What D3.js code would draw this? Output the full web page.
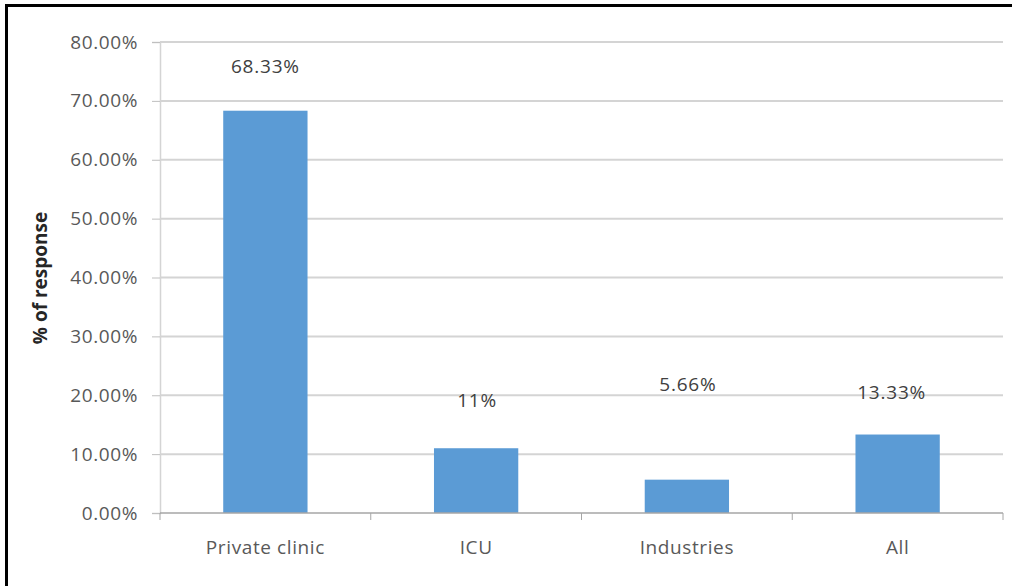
<!DOCTYPE html>
<html>
<head>
<meta charset="utf-8">
<script src="https://cdn.jsdelivr.net/npm/d3@7"></script>
<style>
  body { margin: 0; background: #fff; }
  text { font-family: "Open Sans", "Liberation Sans", sans-serif; }
</style>
</head>
<body>
<svg id="chart"></svg>
<script>
/* données du graphique */
const categories = ['Private clinic', 'ICU', 'Industries', 'All']
const values = [68.33, 11, 5.66, 13.33]
const valueLabels = ['68.33%', '11%', '5.66%', '13.33%']
const labelLevels = [75.9, 19.2, 21.9, 20.5]   // hauteur des étiquettes, en %
const yTicks = [0, 10, 20, 30, 40, 50, 60, 70, 80]

const width = 1012, height = 586
const margin = {top: 42, right: 9, bottom: 73, left: 160}

const svg = d3.select('#chart')
  .attr('width', width)
  .attr('height', height)

/* cadre noir (haut et gauche) */
svg.append('line').attr('x1', 6).attr('x2', width).attr('y1', 5.5).attr('y2', 5.5)
  .attr('stroke', '#000').attr('stroke-width', 3)
svg.append('line').attr('x1', 6.5).attr('x2', 6.5).attr('y1', 4).attr('y2', height)
  .attr('stroke', '#000').attr('stroke-width', 3)

const xScale = d3.scaleBand()
  .domain(categories)
  .range([margin.left, width - margin.right])
  .paddingInner(0.6)
  .paddingOuter(0.3)

const yScale = d3.scaleLinear()
  .domain([0, 80])
  .range([height - margin.bottom, margin.top])

/* lignes de grille */
svg.append('g')
  .selectAll('line')
  .data(yTicks.filter(d => d > 0))
  .enter()
  .append('line')
  .attr('x1', margin.left)
  .attr('x2', width - margin.right)
  .attr('y1', d => yScale(d))
  .attr('y2', d => yScale(d))
  .attr('stroke', '#d4d4d4')
  .attr('stroke-width', 2)

/* axe des y */
const yAxis = d3.axisLeft(yScale)
  .tickValues(yTicks)
  .tickSize(8)
  .tickFormat(d => d3.format('.2f')(d) + '%')

const gy = svg.append('g')
  .attr('transform', 'translate(' + margin.left + ',0)')
  .call(yAxis)
gy.select('.domain').attr('stroke', '#d4d4d4').attr('stroke-width', 1.5)
gy.selectAll('.tick line').attr('stroke', '#bfbfbf')
gy.selectAll('.tick text')
  .attr('x', -22)
  .attr('fill', '#595959')
  .style('font-size', '19px')
  .style('letter-spacing', '0.6px')

/* barres */
svg.append('g')
  .selectAll('rect')
  .data(values)
  .enter()
  .append('rect')
  .attr('x', (d, i) => xScale(categories[i]))
  .attr('width', xScale.bandwidth())
  .attr('y', d => yScale(d))
  .attr('height', d => yScale(0) - yScale(d))
  .attr('fill', '#5b9bd5')

/* axe des x */
const xAxisG = svg.append('g')
  .attr('transform', 'translate(0,' + yScale(0) + ')')
xAxisG.append('line')
  .attr('x1', margin.left).attr('x2', width - margin.right)
  .attr('stroke', '#a6a6a6').attr('stroke-width', 1.5)
xAxisG.selectAll('.sep')
  .data(d3.range(categories.length + 1))
  .enter()
  .append('line')
  .attr('class', 'sep')
  .attr('x1', i => margin.left + i * (width - margin.right - margin.left) / categories.length)
  .attr('x2', i => margin.left + i * (width - margin.right - margin.left) / categories.length)
  .attr('y1', 0).attr('y2', 7)
  .attr('stroke', '#a6a6a6')

xAxisG.selectAll('.cat')
  .data(categories)
  .enter()
  .append('text')
  .attr('class', 'cat')
  .attr('x', d => xScale(d) + xScale.bandwidth() / 2)
  .attr('y', 41)
  .attr('text-anchor', 'middle')
  .attr('fill', '#595959')
  .style('font-size', '19px')
  .style('letter-spacing', '0.6px')
  .text(d => d)

/* étiquettes des valeurs */
svg.append('g')
  .selectAll('text')
  .data(valueLabels)
  .enter()
  .append('text')
  .attr('x', (d, i) => xScale(categories[i]) + xScale.bandwidth() / 2 + [0, 1, 1, -6][i])
  .attr('y', (d, i) => yScale(labelLevels[i]))
  .attr('dy', '0.35em')
  .attr('text-anchor', 'middle')
  .attr('fill', '#404040')
  .style('font-size', '19px')
  .style('letter-spacing', '0.8px')
  .text(d => d)

/* titre de l'axe des y */
svg.append('text')
  .attr('transform', 'translate(40,' + 278 + ') rotate(-90)')
  .attr('text-anchor', 'middle')
  .attr('dy', '0.35em')
  .attr('fill', '#262626')
  .style('font-size', '19px')
  .style('font-weight', 'bold')
  .text('% of response')
</script>
</body>
</html>
